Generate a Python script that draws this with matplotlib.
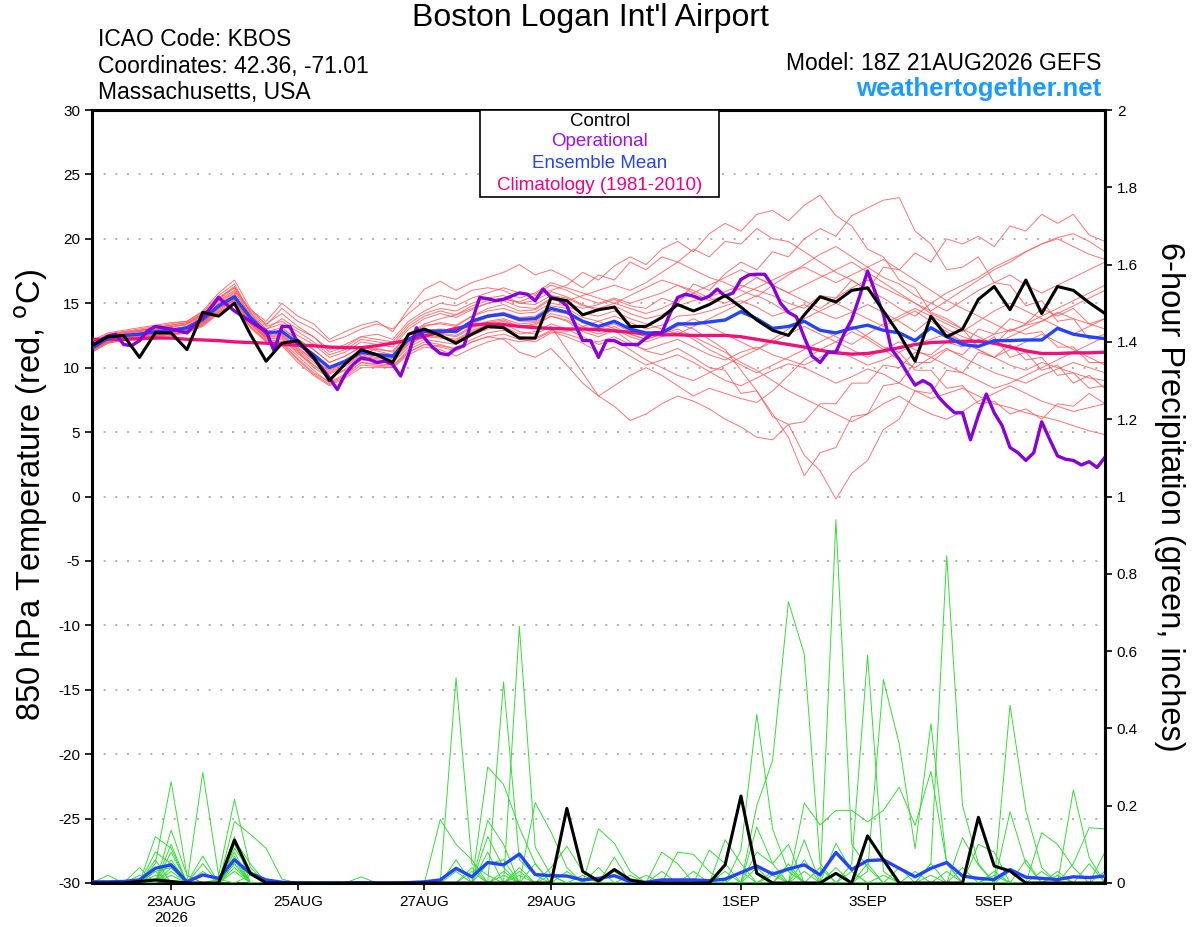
import numpy as np
import matplotlib
matplotlib.use("Agg")
import matplotlib.pyplot as plt
from matplotlib.patches import Rectangle

plt.rcParams['font.family'] = ['Liberation Sans', 'DejaVu Sans']
plt.rcParams['axes.unicode_minus'] = False

# time axes (6-hourly ensemble, 3-hourly operational)
t6 = np.arange(np.datetime64('2026-08-21T18:00'), np.datetime64('2026-09-06T19:00'), np.timedelta64(6, 'h'))
t3 = np.arange(np.datetime64('2026-08-21T18:00'), np.datetime64('2026-09-06T19:00'), np.timedelta64(3, 'h'))

tick_days = ['2026-08-23', '2026-08-25', '2026-08-27', '2026-08-29', '2026-09-01', '2026-09-03', '2026-09-05']
tick_labels = ['23AUG\n2026', '25AUG', '27AUG', '29AUG', '1SEP', '3SEP', '5SEP']

# ---- 850 hPa temperature (C) ----
control_t = [11.7, 12.4, 12.5, 10.8, 12.7, 12.7, 11.4, 14.3, 14.0, 15.0,
             12.6, 10.5, 11.9, 12.1, 10.8, 9.0, 10.3, 11.4, 11.0, 10.4,
             12.6, 13.0, 12.5, 11.9, 12.6, 13.2, 13.1, 12.3, 12.3, 15.4,
             15.2, 14.1, 14.5, 14.7, 13.2, 13.2, 13.9, 14.9, 14.4, 14.9,
             15.6, 14.7, 13.7, 12.9, 12.5, 14.1, 15.5, 15.1, 16.0, 16.2,
             14.4, 12.6, 10.5, 14.0, 12.4, 13.0, 15.3, 16.3, 14.5, 16.8,
             14.2, 16.3, 16.0, 15.05, 14.2]

mean_t = [11.5, 12.3, 12.5, 12.6, 12.8, 12.9, 13.1, 13.75, 14.8, 15.5,
          13.9, 12.7, 12.8, 11.9, 11.0, 10.0, 10.5, 11.2, 11.0, 10.9,
          12.2, 12.8, 12.85, 12.8, 13.6, 14.0, 14.15, 13.75, 13.8, 14.6,
          14.3, 13.6, 13.2, 13.6, 13.0, 12.7, 12.7, 13.4, 13.4, 13.55,
          13.7, 14.35, 13.8, 13.05, 13.2, 13.6, 12.9, 12.7, 13.05, 13.3,
          12.9, 12.7, 12.1, 13.1, 12.4, 11.8, 11.65, 12.1, 12.1, 12.15,
          12.15, 13.05, 12.6, 12.4, 12.25]

climo_t = [12.2, 12.2, 12.2, 12.25, 12.3, 12.3, 12.2, 12.15, 12.1, 12.0,
           11.95, 11.9, 11.8, 11.75, 11.7, 11.6, 11.55, 11.55, 11.7, 11.9,
           12.15, 12.45, 12.75, 13.05, 13.3, 13.4, 13.35, 13.2, 13.1, 13.05,
           13.0, 13.0, 12.95, 12.85, 12.75, 12.6, 12.55, 12.55, 12.5, 12.5,
           12.5, 12.4, 12.2, 12.0, 11.8, 11.6, 11.35, 11.15, 11.05, 11.1,
           11.3, 11.55, 11.8, 11.95, 12.0, 12.05, 12.05, 11.9, 11.6, 11.3,
           11.1, 11.1, 11.15, 11.15, 11.2]

oper_t = [11.7, 12.1, 12.45, 12.6, 11.8, 11.7, 12.1, 12.85, 13.2, 13.1,
          13.0, 12.85, 12.7, 13.35, 13.9, 14.65, 15.45, 14.9, 14.4, 14.0,
          13.6, 13.2, 12.85, 11.3, 13.2, 13.2, 11.9, 11.4, 10.75, 10.0,
          9.2, 8.3, 9.5, 10.25, 10.75, 10.65, 10.4, 10.5, 10.25, 9.35,
          11.0, 13.1, 12.3, 11.6, 11.1, 11.0, 11.5, 11.7, 13.6, 15.45,
          15.35, 15.2, 15.3, 15.55, 15.8, 15.7, 15.2, 16.1, 15.45, 15.3,
          14.8, 13.4, 12.1, 12.1, 10.8, 12.1, 12.1, 11.8, 11.8, 11.8,
          12.3, 12.7, 12.7, 14.15, 15.45, 15.7, 15.55, 15.3, 15.55, 16.1,
          15.55, 15.8, 16.85, 17.2, 17.25, 17.25, 16.35, 15.0, 14.3, 13.95,
          12.35, 10.9, 10.4, 11.2, 11.2, 12.6, 13.75, 15.55, 17.5, 15.8,
          14.15, 11.45, 10.65, 9.6, 8.65, 9.0, 8.65, 7.7, 7.05, 6.5,
          6.5, 4.4, 6.3, 7.95, 6.5, 5.5, 3.8, 3.4, 2.8, 3.4,
          5.8, 4.45, 3.15, 2.9, 2.8, 2.45, 2.7, 2.25, 3.05]

members_t = [
    [11.8, 12.4, 12.6, 12.9, 13.1, 13.3, 13.5, 14.2, 15.3, 16.2, 14.0, 12.9, 12.5, 11.5, 10.6, 9.8, 10.4, 11.0, 11.5, 11.2,
     12.6, 13.4, 13.8, 14.1, 14.6, 15.0, 15.3, 15.1, 15.6, 16.0, 16.4, 17.4, 16.8, 17.9, 18.6, 18.0, 19.2, 19.8, 19.0, 20.4,
     21.2, 20.6, 21.9, 22.2, 21.4, 22.6, 23.4, 21.8, 21.0, 19.2, 18.6, 16.8, 16.2, 14.3, 13.8, 13.0, 11.6, 12.4, 10.8, 11.2,
     9.8, 10.2, 8.8, 9.4, 8.4],
    [11.4, 12.1, 12.3, 12.7, 12.9, 13.0, 13.2, 13.9, 15.0, 15.8, 13.5, 12.4, 13.0, 12.2, 11.4, 10.4, 10.9, 11.6, 11.3, 11.0,
     12.5, 13.2, 13.5, 13.3, 14.0, 14.6, 14.9, 14.4, 14.5, 15.3, 15.0, 14.6, 14.9, 15.3, 14.8, 14.6, 15.4, 15.0, 16.5, 16.0,
     17.3, 18.2, 17.6, 19.0, 18.6, 20.0, 20.8, 20.2, 21.8, 22.4, 23.0, 23.2, 20.6, 19.6, 17.6, 17.8, 18.6, 16.6, 16.4, 14.8,
     15.2, 13.6, 13.8, 12.2, 12.6],
    [11.6, 12.2, 12.4, 12.5, 12.6, 12.8, 13.0, 13.5, 14.6, 15.3, 13.7, 12.5, 12.4, 11.3, 10.2, 9.2, 9.9, 10.8, 10.6, 10.5,
     11.8, 12.4, 12.3, 12.1, 12.8, 13.3, 13.6, 13.2, 13.4, 14.0, 13.6, 12.8, 12.4, 12.9, 12.0, 11.3, 11.0, 11.5, 10.8, 10.0,
     9.8, 8.0, 8.2, 6.2, 5.6, 3.2, 2.0, -0.2, 1.8, 2.8, 5.2, 6.0, 8.2, 8.0, 9.8, 9.6, 11.2, 10.8, 11.8, 10.6,
     10.8, 9.4, 9.6, 8.4, 8.6],
    [11.2, 11.9, 12.2, 12.4, 12.5, 12.6, 12.8, 13.4, 14.4, 15.1, 13.4, 12.2, 12.0, 10.9, 9.8, 8.8, 9.4, 10.4, 10.2, 10.1,
     11.4, 12.0, 11.8, 11.4, 12.0, 12.4, 12.2, 11.2, 10.8, 11.5, 10.2, 8.8, 7.8, 7.0, 5.9, 6.4, 7.2, 7.8, 7.4, 6.8,
     6.0, 5.4, 4.6, 4.4, 5.6, 5.8, 7.2, 7.2, 8.8, 8.8, 10.2, 10.0, 11.2, 11.0, 12.0, 11.6, 13.0, 12.6, 13.8, 13.4,
     14.6, 14.0, 14.6, 13.4, 13.8],
    [12.0, 12.6, 12.8, 13.0, 13.2, 13.4, 13.6, 14.3, 15.6, 16.5, 14.2, 13.0, 13.8, 13.0, 12.4, 11.4, 11.8, 12.4, 12.2, 12.0,
     13.4, 14.2, 14.6, 14.4, 15.0, 15.4, 15.6, 15.0, 15.2, 15.9, 15.5, 14.9, 14.4, 14.8, 14.2, 13.8, 14.1, 14.8, 15.2, 15.5,
     15.9, 16.4, 16.0, 15.6, 15.0, 14.6, 15.6, 15.4, 16.8, 16.0, 17.8, 17.6, 18.9, 18.2, 20.0, 19.6, 20.2, 19.4, 21.0, 20.6,
     21.9, 21.2, 21.9, 20.3, 19.8],
    [11.3, 12.0, 12.2, 12.3, 12.4, 12.5, 12.7, 13.2, 14.2, 14.9, 13.1, 12.0, 11.7, 10.4, 9.4, 8.6, 9.2, 10.0, 10.0, 10.0,
     11.0, 11.6, 11.4, 10.9, 11.5, 12.0, 12.3, 12.0, 12.2, 12.8, 12.4, 11.9, 11.2, 11.6, 10.9, 10.2, 10.6, 11.0, 10.4, 9.7,
     9.0, 8.6, 9.2, 9.8, 10.3, 10.0, 9.4, 8.8, 9.3, 9.9, 9.5, 8.8, 8.2, 7.6, 8.0, 8.4, 7.8, 7.2, 6.9, 6.5,
     6.2, 5.9, 5.5, 5.1, 4.8],
    [11.9, 12.5, 12.7, 12.9, 13.0, 13.1, 13.4, 14.1, 15.4, 16.2, 14.5, 13.6, 15.0, 14.0, 13.4, 12.2, 12.8, 13.3, 13.6, 12.8,
     14.6, 16.1, 16.7, 16.0, 16.6, 17.0, 17.4, 18.0, 17.2, 17.6, 17.0, 16.2, 17.2, 16.8, 18.2, 17.6, 18.6, 18.2, 19.2, 18.6,
     19.8, 19.6, 20.8, 20.0, 19.8, 19.0, 18.2, 17.4, 16.8, 16.0, 15.4, 14.6, 14.0, 15.0, 15.8, 16.4, 17.0, 17.8, 18.4, 19.0,
     19.6, 20.1, 20.4, 19.8, 19.0],
    [11.6, 12.3, 12.5, 12.6, 12.8, 12.9, 13.1, 13.8, 14.9, 15.6, 13.8, 12.6, 12.9, 12.0, 11.1, 10.1, 10.6, 11.3, 11.1, 11.0,
     12.3, 12.9, 13.0, 12.9, 13.7, 14.1, 14.3, 13.9, 14.0, 14.8, 14.6, 13.9, 13.6, 14.0, 13.5, 13.0, 13.3, 14.0, 14.1, 14.4,
     14.8, 15.2, 14.7, 14.0, 14.4, 14.9, 14.3, 13.8, 14.3, 14.9, 14.3, 13.6, 12.8, 13.8, 13.0, 12.4, 12.0, 12.6, 12.9, 13.3,
     13.6, 14.3, 13.8, 13.4, 13.0],
    [11.4, 12.1, 12.3, 12.4, 12.6, 12.7, 12.9, 13.5, 14.6, 15.2, 13.5, 12.3, 12.2, 11.1, 10.2, 9.5, 10.1, 10.9, 10.7, 10.6,
     11.9, 12.5, 12.4, 12.2, 12.9, 13.3, 13.4, 12.8, 12.6, 13.2, 11.4, 9.6, 7.8, 8.6, 9.4, 10.0, 9.4, 8.6, 7.8, 8.4,
     8.0, 7.6, 7.3, 8.2, 9.4, 10.6, 11.4, 12.0, 12.8, 12.2, 11.4, 10.6, 10.0, 10.8, 11.5, 10.8, 10.2, 9.6, 9.2, 8.8,
     9.4, 9.9, 10.4, 10.0, 9.6],
    [11.7, 12.4, 12.6, 12.8, 12.9, 13.2, 13.3, 14.0, 15.1, 15.9, 14.1, 13.0, 13.4, 12.5, 11.8, 10.8, 11.2, 12.0, 11.8, 11.6,
     13.0, 13.8, 14.2, 13.9, 14.5, 15.0, 15.2, 14.7, 14.6, 15.4, 15.2, 15.6, 16.0, 16.4, 16.0, 16.6, 17.4, 18.2, 17.6, 17.0,
     16.6, 16.0, 15.5, 16.4, 17.2, 18.0, 18.8, 19.4, 18.6, 17.8, 17.0, 16.5, 15.6, 15.0, 14.4, 15.2, 16.0, 16.6, 17.2, 16.4,
     15.8, 16.4, 17.0, 17.6, 18.2],
    [11.5, 12.2, 12.4, 12.6, 12.7, 12.8, 13.0, 13.6, 14.7, 15.4, 13.6, 12.5, 12.6, 11.6, 10.6, 9.7, 10.3, 11.1, 10.9, 10.8,
     12.1, 12.7, 12.7, 12.5, 13.2, 13.6, 13.8, 13.4, 13.5, 14.2, 13.9, 13.2, 12.8, 13.2, 12.6, 12.2, 12.6, 13.0, 12.4, 11.8,
     11.2, 10.4, 9.8, 9.0, 8.2, 7.6, 7.0, 6.4, 5.8, 6.4, 7.2, 7.8, 7.0, 6.4, 6.0, 6.6, 7.4, 8.0, 8.6, 8.0,
     7.4, 7.0, 6.6, 6.9, 7.2],
    [11.8, 12.5, 12.7, 12.8, 13.0, 13.2, 13.4, 14.1, 15.2, 16.0, 14.4, 13.4, 14.2, 13.2, 12.4, 11.2, 11.6, 12.4, 12.6, 12.2,
     13.6, 14.4, 15.0, 14.8, 15.4, 15.8, 16.2, 15.8, 15.7, 16.4, 16.0, 15.4, 15.0, 15.4, 15.0, 15.4, 15.8, 16.4, 16.0, 15.4,
     15.0, 15.6, 16.2, 16.8, 17.4, 17.8, 17.2, 16.6, 17.2, 17.8, 18.4, 17.6, 16.8, 16.0, 15.2, 14.6, 14.0, 13.4, 12.8, 13.4,
     14.0, 14.6, 15.2, 15.8, 16.4],
    [11.3, 12.0, 12.1, 12.3, 12.5, 12.6, 12.8, 13.3, 14.3, 15.0, 13.2, 12.1, 11.9, 10.7, 9.6, 8.9, 9.5, 10.4, 10.3, 10.2,
     11.2, 11.8, 11.7, 11.5, 12.2, 12.7, 12.9, 12.4, 12.3, 12.9, 12.6, 12.2, 12.0, 12.4, 11.8, 11.4, 11.8, 12.2, 11.6, 11.0,
     10.6, 11.2, 11.6, 11.0, 10.6, 10.2, 10.8, 11.4, 10.8, 10.2, 10.6, 11.2, 11.8, 12.2, 12.6, 12.0, 11.4, 10.8, 10.2, 9.8,
     10.4, 10.0, 9.6, 9.2, 9.0],
    [11.5, 12.2, 12.4, 12.5, 12.7, 12.8, 13.0, 13.6, 14.7, 15.5, 13.7, 12.6, 12.8, 11.8, 10.9, 10.0, 10.5, 11.2, 11.0, 10.8,
     12.2, 12.8, 12.9, 12.7, 13.4, 13.9, 14.1, 13.6, 13.6, 14.4, 14.2, 13.5, 13.0, 13.4, 12.8, 12.4, 12.8, 13.4, 13.0, 12.2,
     11.4, 9.8, 8.2, 6.4, 4.6, 1.6, 3.4, 3.8, 6.2, 6.4, 8.6, 8.8, 10.4, 10.4, 11.4, 11.0, 12.2, 11.8, 13.0, 12.6,
     12.8, 11.6, 11.6, 10.4, 10.4],
    [12.1, 12.7, 12.9, 13.1, 13.3, 13.5, 13.6, 14.4, 15.8, 16.8, 14.6, 13.3, 14.6, 13.6, 13.0, 12.0, 12.4, 13.0, 13.4, 13.0,
     14.2, 15.2, 15.6, 15.3, 16.0, 16.2, 16.0, 15.4, 15.8, 16.6, 16.2, 15.8, 15.4, 15.0, 15.6, 16.2, 16.8, 16.4, 15.8, 15.2,
     15.6, 16.2, 17.0, 16.4, 15.8, 15.2, 14.6, 15.4, 16.2, 16.8, 16.2, 15.6, 15.0, 14.4, 15.2, 16.0, 16.8, 17.6, 18.2, 19.0,
     19.6, 20.0, 19.4, 18.8, 18.4],
    [11.4, 12.0, 12.3, 12.4, 12.5, 12.7, 12.9, 13.4, 14.5, 15.2, 13.4, 12.3, 12.3, 11.2, 10.0, 9.2, 9.8, 10.6, 10.5, 10.4,
     11.6, 12.2, 12.0, 11.8, 12.5, 13.0, 13.2, 12.6, 12.8, 13.4, 13.0, 12.4, 11.8, 12.2, 11.4, 10.6, 10.0, 9.4, 9.0, 9.6,
     10.2, 10.8, 11.4, 12.0, 12.6, 13.2, 12.6, 12.0, 11.4, 10.8, 11.4, 12.0, 11.4, 10.8, 10.2, 9.6, 9.0, 8.4, 8.8, 9.4,
     10.0, 10.6, 11.2, 11.8, 12.4],
    [11.6, 12.3, 12.5, 12.7, 12.8, 13.0, 13.1, 13.8, 14.9, 15.7, 13.9, 12.8, 13.1, 12.2, 11.4, 10.4, 10.9, 11.6, 11.4, 11.3,
     12.6, 13.3, 13.4, 13.2, 14.0, 14.4, 14.6, 14.2, 14.3, 15.0, 14.8, 14.2, 14.0, 14.4, 13.8, 13.4, 13.0, 12.6, 13.2, 13.8,
     14.4, 15.0, 15.6, 15.0, 14.2, 13.6, 13.0, 12.4, 11.8, 12.6, 13.4, 14.0, 14.6, 14.0, 13.4, 12.8, 13.6, 14.4, 15.0, 14.4,
     13.8, 13.2, 12.6, 13.2, 13.8],
    [11.5, 12.1, 12.4, 12.5, 12.6, 12.9, 13.0, 13.6, 14.6, 15.3, 13.6, 12.4, 12.5, 11.4, 10.4, 9.6, 10.2, 11.0, 10.8, 10.7,
     12.0, 12.6, 12.6, 12.4, 13.1, 13.5, 13.7, 13.2, 13.3, 14.0, 13.7, 13.0, 12.6, 13.0, 12.4, 12.0, 12.4, 12.8, 12.2, 11.4,
     10.8, 10.2, 9.6, 10.2, 10.8, 11.4, 12.0, 12.6, 13.2, 12.4, 11.6, 11.2, 9.8, 9.8, 8.4, 8.6, 7.2, 7.4, 6.4, 6.8,
     6.0, 7.2, 7.0, 8.0, 7.2],
    [11.9, 12.5, 12.8, 12.9, 13.1, 13.3, 13.5, 14.2, 15.4, 16.3, 14.3, 13.2, 13.6, 12.8, 12.0, 11.0, 11.4, 12.2, 12.0, 11.8,
     13.2, 14.0, 14.4, 14.1, 14.8, 15.2, 15.4, 15.0, 14.9, 15.6, 15.4, 14.8, 14.6, 15.0, 14.6, 14.2, 14.6, 15.2, 15.8, 16.4,
     17.0, 17.6, 17.0, 16.4, 15.8, 16.4, 17.0, 17.6, 18.2, 17.4, 16.6, 15.8, 15.0, 14.2, 13.6, 13.0, 12.4, 11.8, 12.4, 13.0,
     13.6, 14.2, 14.8, 15.4, 16.0],
    [11.2, 11.9, 12.1, 12.3, 12.4, 12.6, 12.7, 13.3, 14.3, 14.9, 13.2, 12.1, 11.8, 10.6, 9.5, 8.7, 9.3, 10.2, 10.1, 10.0,
     11.2, 11.8, 11.6, 11.3, 12.0, 12.4, 12.6, 12.2, 12.0, 12.7, 12.8, 13.2, 13.6, 13.0, 12.6, 12.2, 12.6, 13.2, 13.8, 13.2,
     12.6, 12.0, 11.4, 12.2, 13.0, 13.8, 14.4, 15.0, 14.4, 13.8, 13.2, 13.8, 14.4, 13.6, 12.8, 12.0, 11.4, 10.8, 11.4, 12.0,
     12.6, 12.0, 11.4, 10.8, 10.2],
]

# ---- 6-hour precipitation (inches) ----
control_p = [0, 0, 0, 0.004, 0.008, 0.004, 0, 0, 0, 0.111,
             0.025, 0, 0, 0, 0, 0, 0, 0, 0, 0,
             0, 0, 0, 0, 0, 0, 0, 0, 0, 0,
             0.193, 0.03, 0.005, 0.035, 0.008, 0, 0, 0, 0, 0,
             0.047, 0.225, 0.025, 0, 0, 0, 0, 0.025, 0, 0.122,
             0.06, 0, 0, 0, 0, 0, 0.17, 0.044, 0.031, 0,
             0, 0, 0, 0, 0]

mean_p = [0.003, 0.003, 0.004, 0.008, 0.038, 0.047, 0.003, 0.021, 0.012, 0.06,
          0.025, 0.008, 0.002, 0, 0, 0, 0, 0.001, 0, 0,
          0.001, 0.003, 0.008, 0.038, 0.016, 0.053, 0.047, 0.075, 0.022, 0.019,
          0.018, 0.008, 0.012, 0.019, 0.003, 0.002, 0.008, 0.008, 0.008, 0.006,
          0.01, 0.027, 0.044, 0.023, 0.036, 0.047, 0.021, 0.079, 0.035, 0.058,
          0.06, 0.038, 0.016, 0.038, 0.053, 0.018, 0.012, 0.009, 0.035, 0.015,
          0.012, 0.009, 0.016, 0.014, 0.018]

members_p = [
    [0, 0, 0, 0, .05, .262, .02, 0, 0, .06, 0, 0, 0, 0, 0, 0, 0, 0, 0, 0,
     0, 0, 0, .531, .05, .02, 0, 0, 0, 0, 0, 0, 0, .067, 0, 0, 0, 0, 0, 0,
     0, 0, .2, .317, .728, .592, .05, 0, 0, 0, 0, 0, 0, .05, 0, 0, 0, 0, .184, .05,
     0, 0, 0, 0, 0],
    [0, 0, 0, 0, 0, .10, 0, .286, .02, .216, .04, 0, 0, 0, 0, 0, 0, 0, 0, 0,
     0, 0, 0, 0, 0, 0, .52, .06, .02, 0, 0, 0, 0, 0, 0, 0, 0, 0, 0, 0,
     0, .085, .436, .14, .03, 0, 0, 0, 0, 0, 0, 0, 0, .05, .847, .2, .05, 0, 0, 0,
     0, 0, 0, 0, 0],
    [0, 0, 0, 0, .12, .09, 0, 0, 0, .159, .126, .09, .01, 0, 0, 0, 0, 0, 0, 0,
     0, 0, 0, 0, 0, 0, 0, .664, .093, .02, 0, 0, 0, 0, 0, 0, 0, 0, 0, 0,
     0, 0, 0, 0, 0, 0, 0, .94, .1, .04, 0, 0, 0, 0, 0, 0, 0, 0, 0, 0,
     0, 0, .241, .066, 0],
    [0, 0, 0, .04, 0, .137, .02, 0, 0, .111, .05, 0, 0, 0, 0, 0, 0, 0, 0, 0,
     0, 0, 0, 0, 0, .30, .255, .143, .05, 0, 0, 0, 0, 0, 0, 0, 0, 0, 0, 0,
     0, 0, 0, 0, 0, 0, 0, 0, .05, .59, .03, 0, 0, 0, 0, 0, 0, 0, 0, 0,
     0, 0, 0, 0, 0],
    [0, 0, 0, 0, .08, .05, 0, .07, 0, .08, 0, 0, 0, 0, 0, 0, 0, 0, 0, 0,
     0, 0, .164, .10, .06, 0, 0, 0, .208, .132, .04, 0, 0, 0, 0, 0, 0, 0, 0, 0,
     0, 0, .08, .05, .10, 0, 0, 0, 0, 0, 0, 0, 0, 0, 0, 0, 0, 0, .46, .188,
     .04, 0, 0, 0, 0],
    [0, 0, 0, 0, 0, .06, 0, .05, 0, .04, 0, 0, 0, 0, 0, 0, 0, 0, 0, 0,
     0, 0, 0, 0, 0, .162, .10, 0, 0, 0, 0, 0, .14, .103, .03, 0, 0, 0, 0, 0,
     0, 0, 0, 0, 0, .207, .15, .188, .188, .158, .188, .248, .149, .289, .05, 0, 0, 0, 0, 0,
     0, 0, 0, 0, 0],
    [0, 0, 0, 0, 0, 0, 0, 0, 0, .05, 0, 0, 0, 0, 0, 0, 0, 0, 0, 0,
     0, 0, 0, .06, 0, .12, .04, 0, 0, .04, .095, .03, 0, 0, 0, 0, .08, .05, 0, 0,
     .112, .05, 0, 0, 0, .112, 0, .103, .03, 0, 0, 0, 0, 0, 0, .117, .046, 0, 0, 0,
     0, 0, .05, .143, .14],
    [0, 0, 0, 0, .03, .04, 0, 0, 0, 0, .02, 0, 0, 0, 0, 0, 0, 0, 0, 0,
     0, 0, 0, 0, 0, .08, 0, .04, 0, 0, 0, 0, 0, 0, 0, 0, 0, .08, .074, .03,
     0, 0, .145, .05, 0, 0, 0, 0, 0, 0, 0, 0, 0, 0, 0, 0, .1, .08, 0, 0,
     .13, .1, .04, 0, .08],
    [0, 0, 0, .02, 0, .03, 0, 0, 0, .03, 0, 0, 0, 0, 0, 0, 0, .016, 0, 0,
     0, 0, 0, 0, .04, 0, 0, 0, .05, 0, 0, 0, .04, 0, 0, 0, 0, 0, 0, .085,
     .05, 0, 0, 0, 0, 0, 0, 0, 0, .03, .526, .36, .089, .412, .05, 0, 0, .03, 0, 0,
     0, 0, 0, .05, 0],
    [0, .02, 0, 0, .03, 0, 0, 0, 0, .1, .03, 0, 0, 0, 0, 0, 0, 0, 0, 0,
     0, 0, 0, 0, 0, 0, .03, 0, 0, 0, .03, 0, 0, 0, 0, 0, .03, 0, .03, 0,
     0, 0, 0, 0, .05, 0, .04, 0, 0, .05, 0, .04, 0, 0, 0, 0, 0, 0, 0, .06,
     0, .03, 0, 0, 0],
    [0, 0, 0, 0, 0, .08, 0, 0, 0, .12, 0, 0, 0, 0, 0, 0, 0, 0, 0, 0,
     0, 0, 0, .03, 0, 0, 0, .03, 0, 0, 0, 0, 0, .03, 0, 0, 0, 0, 0, 0,
     0, .03, 0, .03, 0, .06, 0, 0, 0, 0, 0, 0, .03, 0, 0, 0, 0, 0, .03, 0,
     0, 0, 0, 0, 0],
    [0, 0, 0, 0, .06, 0, 0, .03, 0, .07, 0, 0, 0, 0, 0, 0, 0, 0, 0, 0,
     0, 0, 0, 0, 0, .05, .06, 0, 0, 0, 0, 0, 0, 0, 0, .02, 0, 0, 0, 0,
     0, 0, .04, 0, 0, 0, 0, .04, 0, 0, 0, 0, 0, 0, .03, 0, 0, 0, 0, 0,
     .03, 0, 0, 0, 0],
    [0, 0, 0, 0, 0, .02, 0, 0, 0, .05, 0, 0, 0, 0, 0, 0, 0, 0, 0, 0,
     0, 0, 0, 0, .03, 0, 0, 0, 0, .02, 0, 0, 0, 0, 0, 0, 0, 0, 0, 0,
     0, 0, 0, 0, .04, 0, 0, 0, .03, 0, 0, 0, 0, .02, 0, 0, 0, 0, 0, 0,
     0, .02, 0, 0, 0],
    [0, 0, 0, 0, .02, 0, 0, 0, 0, .09, .03, 0, 0, 0, 0, 0, 0, 0, 0, 0,
     0, 0, 0, 0, 0, 0, .02, 0, 0, 0, 0, .02, 0, 0, 0, 0, 0, 0, 0, 0,
     .03, 0, 0, 0, 0, .03, 0, 0, 0, 0, 0, 0, 0, 0, 0, .04, 0, 0, 0, 0,
     0, 0, 0, 0, .03],
    [0, 0, 0, 0, 0, .04, 0, 0, .01, 0, 0, 0, 0, 0, 0, 0, 0, 0, 0, 0,
     0, 0, 0, 0, 0, 0, 0, .02, 0, 0, 0, 0, 0, 0, .02, 0, 0, 0, 0, 0,
     0, 0, 0, .02, 0, 0, 0, 0, 0, 0, .02, 0, 0, 0, 0, 0, 0, .02, 0, 0,
     0, 0, 0, 0, 0],
]

RED = '#ff5a5a'
GREEN = '#33dd33'
PURPLE = '#8800dd'
BLUE = '#2244ff'
PINK = '#ee1177'

fig = plt.figure(figsize=(12, 9.27), dpi=100)
ax = fig.add_axes([92 / 1200, 1 - 883 / 927, 1013 / 1200, 773 / 927])

for m in members_t:
    ax.plot(t6, m, color=RED, lw=0.7, alpha=0.85, zorder=2)
ax.plot(t6, climo_t, color=PINK, lw=2.4, zorder=3)
ax.plot(t6, mean_t, color=BLUE, lw=2.4, zorder=4)
ax.plot(t3, oper_t, color=PURPLE, lw=2.4, zorder=5)
ax.plot(t6, control_t, color='black', lw=2.2, zorder=6)

ax.set_xlim(t6[0], t6[-1])
ax.set_ylim(-30, 30)
ax.set_yticks(range(-30, 31, 5))
ax.yaxis.grid(True, color='#b0b0b0', linestyle=(0, (1, 5)), lw=1.4)
ax.set_xticks([np.datetime64(d) for d in tick_days])
ax.set_xticklabels(tick_labels)
ax.tick_params(axis='both', labelsize=11, length=5, width=1.2, direction='out')
for s in ax.spines.values():
    s.set_linewidth(2.2)

ax2 = ax.twinx()
for m in members_p:
    ax2.plot(t6, m, color=GREEN, lw=0.7, zorder=2)
ax2.plot(t6, mean_p, color=BLUE, lw=2.4, zorder=4)
ax2.plot(t6, control_p, color='black', lw=2.2, zorder=5)
ax2.set_ylim(0, 2)
ax2.set_yticks(np.arange(0, 2.01, 0.2))
ax2.set_yticklabels(['0', '0.2', '0.4', '0.6', '0.8', '1', '1.2', '1.4', '1.6', '1.8', '2'])
ax2.tick_params(axis='y', labelsize=11, length=5, width=1.2, direction='out')
ax2.spines['right'].set_linewidth(2.2)
ax2.set_xlim(t6[0], t6[-1])

# axis titles
fig.text(31 / 1200, 1 - 495 / 927, '850 hPa Temperature (red, $^\\mathrm{o}$C)',
         rotation=90, ha='center', va='center', fontsize=23.5)
fig.text(1170 / 1200, 1 - 497 / 927, '6-hour Precipitation (green, inches)',
         rotation=-90, ha='center', va='center', fontsize=23.5)

# header
fig.text(590 / 1200, 1 - 18 / 927, "Boston Logan Int'l Airport", ha='center', va='center', fontsize=23)
fig.text(98 / 1200, 1 - 40 / 927, 'ICAO Code: KBOS', ha='left', va='center', fontsize=16.5)
fig.text(98 / 1200, 1 - 66 / 927, 'Coordinates: 42.36, -71.01', ha='left', va='center', fontsize=16.5)
fig.text(98 / 1200, 1 - 92 / 927, 'Massachusetts, USA', ha='left', va='center', fontsize=16.5)
fig.text(1101 / 1200, 1 - 63 / 927, 'Model: 18Z 21AUG2026 GEFS', ha='right', va='center', fontsize=16.5)
fig.text(1101 / 1200, 1 - 89 / 927, 'weathertogether.net', ha='right', va='center',
         fontsize=18.5, fontweight='bold', color='#1a9cff')

# legend box
fig.patches.append(Rectangle((480 / 1200, 1 - 197 / 927), 239 / 1200, 87 / 927,
                             transform=fig.transFigure, facecolor='white',
                             edgecolor='black', lw=1.2, zorder=10))
legend_items = [('Control', 'black', 121), ('Operational', '#9a10ee', 142),
                ('Ensemble Mean', BLUE, 163), ('Climatology (1981-2010)', '#ee0088', 185)]
for txt, col, ypx in legend_items:
    fig.text(600 / 1200, 1 - ypx / 927, txt, ha='center', va='center',
             fontsize=13.5, color=col, zorder=11)

fig.savefig('out.png', dpi=100)
